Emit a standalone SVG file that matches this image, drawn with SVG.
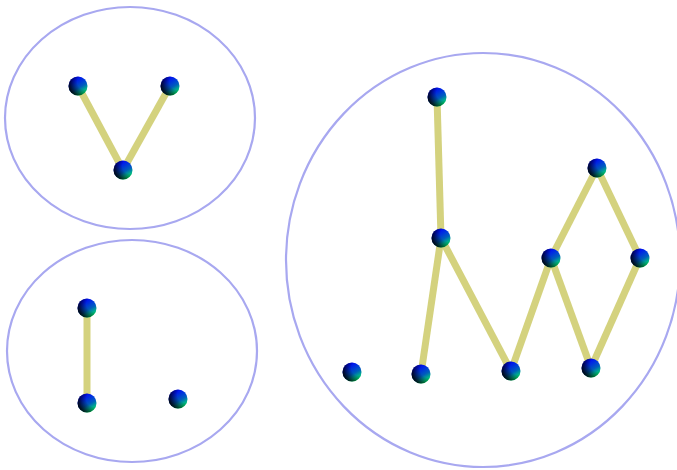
<svg xmlns="http://www.w3.org/2000/svg" width="677" height="470" viewBox="0 0 677 470">
<defs>
<linearGradient id="bg" x1="0.4" y1="0.1" x2="0.85" y2="0.9">
<stop offset="0" stop-color="#0010ff"/>
<stop offset="0.55" stop-color="#0060c0"/>
<stop offset="1" stop-color="#00ff70"/>
</linearGradient>
<radialGradient id="sh" cx="0.85" cy="0.3" r="0.95" fx="0.85" fy="0.3">
<stop offset="0" stop-color="#000" stop-opacity="0"/>
<stop offset="0.4" stop-color="#000" stop-opacity="0.05"/>
<stop offset="0.8" stop-color="#000" stop-opacity="0.7"/>
<stop offset="1" stop-color="#000" stop-opacity="1"/>
</radialGradient>
<g id="ball">
<circle r="9.5" fill="url(#bg)"/>
<circle r="9.5" fill="url(#sh)"/>
</g>
</defs>
<style>
.cl{fill:none;stroke:#a8a8f0;stroke-width:2.2}
.e{stroke:#d4d27e;stroke-width:7;stroke-linecap:butt}
</style>
<g id="clusters">
<ellipse class="cl" cx="130" cy="118" rx="125" ry="111"/>
<ellipse class="cl" cx="132" cy="351" rx="125" ry="111"/>
<ellipse class="cl" cx="483" cy="260" rx="197" ry="207"/>
</g>
<g id="edges">
<line class="e" x1="78" y1="86" x2="123" y2="170"/>
<line class="e" x1="170" y1="86" x2="123" y2="170"/>
<line class="e" x1="87" y1="308" x2="87" y2="403"/>
<line class="e" x1="437" y1="97" x2="441" y2="238"/>
<line class="e" x1="441" y1="238" x2="421" y2="374"/>
<line class="e" x1="441" y1="238" x2="511" y2="371"/>
<line class="e" x1="511" y1="371" x2="551" y2="258"/>
<line class="e" x1="551" y1="258" x2="597" y2="168"/>
<line class="e" x1="597" y1="168" x2="640" y2="258"/>
<line class="e" x1="640" y1="258" x2="591" y2="368"/>
<line class="e" x1="591" y1="368" x2="551" y2="258"/>
</g>
<g id="n1"><use href="#ball" x="78" y="86"/></g>
<g id="n2"><use href="#ball" x="170" y="86"/></g>
<g id="n3"><use href="#ball" x="123" y="170"/></g>
<g id="n4"><use href="#ball" x="87" y="308"/></g>
<g id="n5"><use href="#ball" x="87" y="403"/></g>
<g id="n6"><use href="#ball" x="178" y="399"/></g>
<g id="n7"><use href="#ball" x="437" y="97"/></g>
<g id="n8"><use href="#ball" x="441" y="238"/></g>
<g id="n9"><use href="#ball" x="352" y="372"/></g>
<g id="n10"><use href="#ball" x="421" y="374"/></g>
<g id="n11"><use href="#ball" x="511" y="371"/></g>
<g id="n12"><use href="#ball" x="551" y="258"/></g>
<g id="n13"><use href="#ball" x="597" y="168"/></g>
<g id="n14"><use href="#ball" x="640" y="258"/></g>
<g id="n15"><use href="#ball" x="591" y="368"/></g>
</svg>
